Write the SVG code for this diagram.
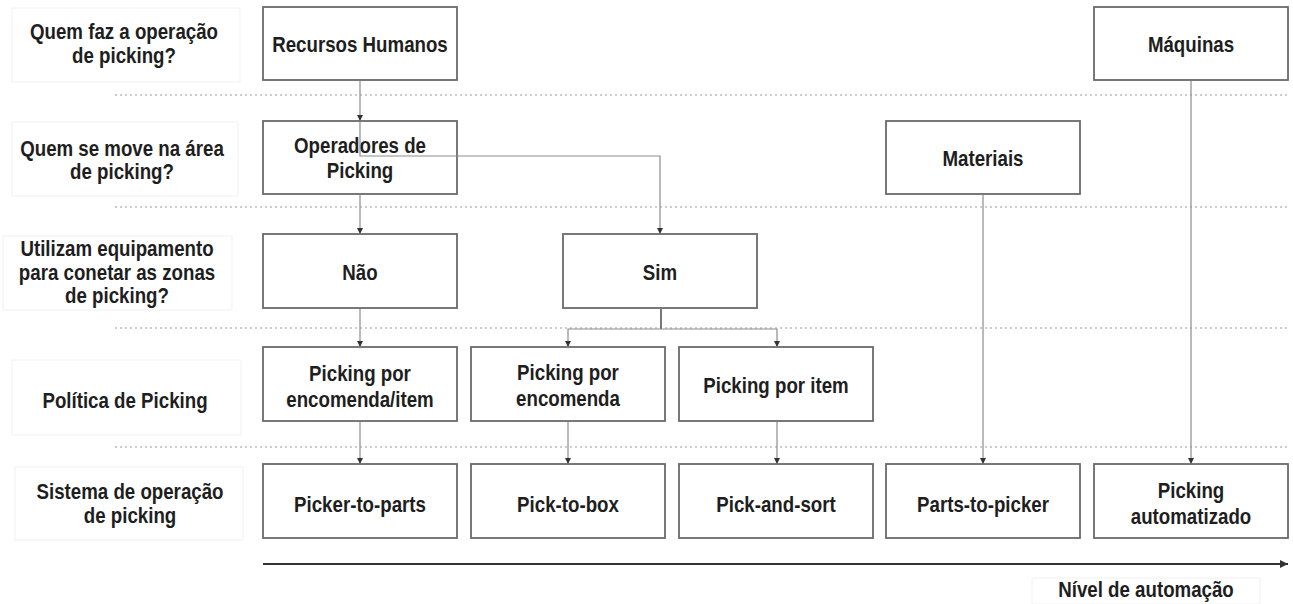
<svg xmlns="http://www.w3.org/2000/svg" width="1293" height="604" viewBox="0 0 1293 604">
<defs>
<style>
.bg{fill:#ffffff}
.box{fill:#ffffff;stroke:#6a6a6a;stroke-width:1.8}
.lbox{fill:none;stroke:#f1f1f1;stroke-width:1}
.t{font-family:"Liberation Sans",Arial,sans-serif;font-weight:bold;font-size:22px;fill:#1e1e1e;text-anchor:middle}
.sep{stroke:#bdbdbd;stroke-width:1.5;stroke-dasharray:2 3;fill:none}
.con{stroke:#8c8c8c;stroke-width:1.2;fill:none}
.axis{stroke:#333333;stroke-width:2;fill:none}
</style>
<marker id="ah" viewBox="0 0 10 10" refX="10" refY="5" markerWidth="6" markerHeight="6" markerUnits="userSpaceOnUse" orient="auto"><path d="M0,0 L10,5 L0,10z" fill="#333333"/></marker>
<marker id="ax" viewBox="0 0 10 10" refX="10" refY="5" markerWidth="9" markerHeight="8" markerUnits="userSpaceOnUse" orient="auto"><path d="M0,0 L10,5 L0,10z" fill="#333333"/></marker>
</defs>
<rect class="bg" x="0" y="0" width="1293" height="604"/>

<g id="separators">
<line class="sep" x1="115" y1="95" x2="1288" y2="95"/>
<line class="sep" x1="115" y1="207" x2="1288" y2="207"/>
<line class="sep" x1="115" y1="328" x2="1288" y2="328"/>
<line class="sep" x1="115" y1="447" x2="1288" y2="447"/>
</g>

<g id="row-labels">
<g id="label-quem-faz"><rect class="lbox" x="12" y="8" width="228" height="74"/><text class="t" transform="translate(124,39) scale(0.85,1)"><tspan x="0" y="0">Quem faz a operação</tspan><tspan x="0" y="24">de picking?</tspan></text></g>
<g id="label-quem-move"><rect class="lbox" x="12" y="122" width="226" height="74"/><text class="t" transform="translate(122,156) scale(0.85,1)"><tspan x="0" y="0">Quem se move na área</tspan><tspan x="0" y="23">de picking?</tspan></text></g>
<g id="label-equipamento"><rect class="lbox" x="3" y="236" width="229" height="74"/><text class="t" transform="translate(117,256) scale(0.85,1)"><tspan x="0" y="0">Utilizam equipamento</tspan><tspan x="0" y="24">para conetar as zonas</tspan><tspan x="0" y="47">de picking?</tspan></text></g>
<g id="label-politica"><rect class="lbox" x="12" y="360" width="229" height="75"/><text class="t" transform="translate(125,408) scale(0.85,1)">Política de Picking</text></g>
<g id="label-sistema"><rect class="lbox" x="15" y="467" width="228" height="73"/><text class="t" transform="translate(130,499) scale(0.85,1)"><tspan x="0" y="0">Sistema de operação</tspan><tspan x="0" y="24">de picking</tspan></text></g>
</g>

<g id="n-recursos"><rect class="box" x="263" y="7" width="194" height="73"/><text class="t" transform="translate(360,52) scale(0.85,1)">Recursos Humanos</text></g>
<g id="n-maquinas"><rect class="box" x="1094" y="7" width="194" height="73"/><text class="t" transform="translate(1191,52) scale(0.85,1)">Máquinas</text></g>
<g id="n-operadores"><rect class="box" x="263" y="121" width="194" height="73"/><text class="t" transform="translate(360,153) scale(0.85,1)"><tspan x="0" y="0">Operadores de</tspan><tspan x="0" y="25">Picking</tspan></text></g>
<g id="n-materiais"><rect class="box" x="886" y="121" width="194" height="73"/><text class="t" transform="translate(983,166) scale(0.85,1)">Materiais</text></g>
<g id="n-nao"><rect class="box" x="263" y="234" width="194" height="74"/><text class="t" transform="translate(360,280) scale(0.85,1)">Não</text></g>
<g id="n-sim"><rect class="box" x="563" y="234" width="194" height="74"/><text class="t" transform="translate(660,280) scale(0.85,1)">Sim</text></g>
<g id="n-pol-encitem"><rect class="box" x="263" y="347" width="194" height="74"/><text class="t" transform="translate(360,381) scale(0.85,1)"><tspan x="0" y="0">Picking por</tspan><tspan x="0" y="26">encomenda/item</tspan></text></g>
<g id="n-pol-enc"><rect class="box" x="471" y="347" width="194" height="74"/><text class="t" transform="translate(568,380) scale(0.85,1)"><tspan x="0" y="0">Picking por</tspan><tspan x="0" y="26">encomenda</tspan></text></g>
<g id="n-pol-item"><rect class="box" x="679" y="347" width="194" height="74"/><text class="t" transform="translate(776,393) scale(0.85,1)">Picking por item</text></g>
<g id="n-picker-to-parts"><rect class="box" x="263" y="464" width="194" height="74"/><text class="t" transform="translate(360,512) scale(0.85,1)">Picker-to-parts</text></g>
<g id="n-pick-to-box"><rect class="box" x="471" y="464" width="194" height="74"/><text class="t" transform="translate(568,512) scale(0.85,1)">Pick-to-box</text></g>
<g id="n-pick-and-sort"><rect class="box" x="679" y="464" width="194" height="74"/><text class="t" transform="translate(776,512) scale(0.85,1)">Pick-and-sort</text></g>
<g id="n-parts-to-picker"><rect class="box" x="886" y="464" width="194" height="74"/><text class="t" transform="translate(983,512) scale(0.85,1)">Parts-to-picker</text></g>
<g id="n-automatizado"><rect class="box" x="1094" y="464" width="194" height="74"/><text class="t" transform="translate(1191,498) scale(0.85,1)"><tspan x="0" y="0">Picking</tspan><tspan x="0" y="26">automatizado</tspan></text></g>

<g id="connectors">
<line class="con" x1="360" y1="81" x2="360" y2="121" marker-end="url(#ah)"/>
<path class="con" d="M360,122 V156 H660 V234" marker-end="url(#ah)"/>
<line class="con" x1="360" y1="195" x2="360" y2="234" marker-end="url(#ah)"/>
<line class="con" x1="360" y1="309" x2="360" y2="347" marker-end="url(#ah)"/>
<line x1="661" y1="309" x2="661" y2="329" stroke="#555555" stroke-width="1.6"/>
<path class="con" d="M661,329 H568 V347" marker-end="url(#ah)"/>
<path class="con" d="M661,329 H777 V347" marker-end="url(#ah)"/>
<line class="con" x1="360" y1="422" x2="360" y2="464" marker-end="url(#ah)"/>
<line class="con" x1="568" y1="422" x2="568" y2="464" marker-end="url(#ah)"/>
<line class="con" x1="777" y1="422" x2="777" y2="464" marker-end="url(#ah)"/>
<line class="con" x1="983" y1="195" x2="983" y2="464" marker-end="url(#ah)"/>
<line class="con" x1="1191" y1="81" x2="1191" y2="464" marker-end="url(#ah)"/>
</g>

<g id="axis">
<line class="axis" x1="263" y1="564" x2="1288" y2="564" marker-end="url(#ax)"/>
<rect class="lbox" x="1032" y="578" width="228" height="26"/>
<text class="t" transform="translate(1146,597) scale(0.85,1)">Nível de automação</text>
</g>
</svg>
